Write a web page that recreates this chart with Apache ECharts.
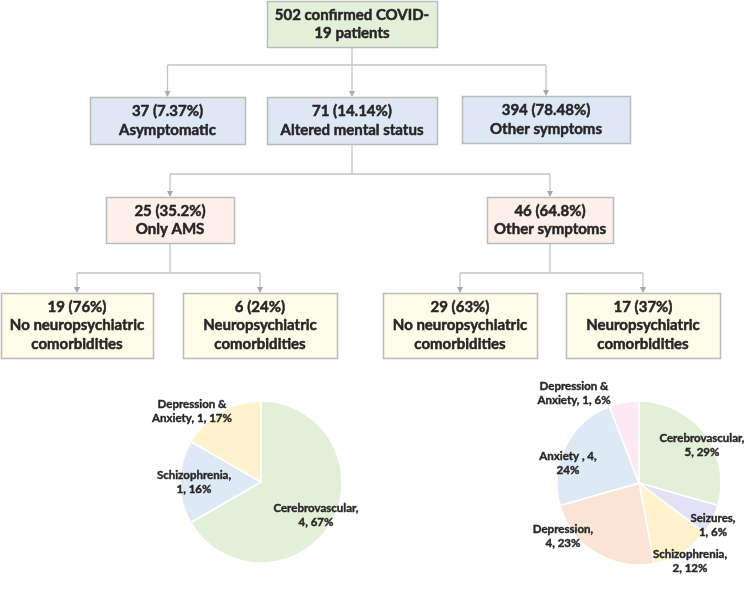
<!DOCTYPE html>
<html>
<head>
<meta charset="utf-8">
<script src="https://cdn.jsdelivr.net/npm/echarts@6/dist/echarts.min.js"></script>
<style>html,body{margin:0;padding:0;background:#fff}#c{width:750px;height:589px}</style>
</head>
<body>
<div id="c"></div>
<script>
// ---------- data ----------
const rootText = ['502 confirmed COVID-', '19 patients'];
const level1Counts = [37, 71, 394];
const level1Pct = ['7.37%', '14.14%', '78.48%'];
const level1Names = ['Asymptomatic', 'Altered mental status', 'Other symptoms'];
const level2Counts = [25, 46];
const level2Pct = ['35.2%', '64.8%'];
const level2Names = ['Only AMS', 'Other symptoms'];
const level3Counts = [19, 6, 29, 17];
const level3Pct = ['76%', '24%', '63%', '37%'];
const level3Names = ['No neuropsychiatric\ncomorbidities', 'Neuropsychiatric\ncomorbidities',
                     'No neuropsychiatric\ncomorbidities', 'Neuropsychiatric\ncomorbidities'];

const pie1Names = ['Cerebrovascular', 'Schizophrenia', 'Depression &\nAnxiety'];
const pie1Values = [4, 1, 1];
const pie1Pct = [67, 16, 17];
const pie2Names = ['Cerebrovascular', 'Seizures', 'Schizophrenia', 'Depression', 'Anxiety ', 'Depression &\nAnxiety'];
const pie2Values = [5, 1, 2, 4, 4, 1];
const pie2Pct = [29, 6, 12, 23, 24, 6];

// ---------- layout / style ----------
const FONT = 'Lato';
const TXT = '#262626';
const LINE = '#c3c3c3';
const ARROW = '#a9a9a9';
const pie1Colors = ['#e2efd9', '#dee9f6', '#fff2cc'];
const pie2Colors = ['#e2efd9', '#e3e1f6', '#fff2cc', '#fbe4d5', '#dee9f6', '#fde9f3'];
// label wrap mode: 0 -> break after name, 1 -> name holds break, 2 -> break after value
const pie1Wrap = [0, 0, 1];
const pie2Wrap = [0, 0, 0, 0, 2, 1];
const pie1LabelPos = [[316, 515], [194, 482], [192, 411]];
const pie2LabelPos = [[702, 445], [713, 525], [690, 561], [563, 536], [568, 463], [574, 393]];

const rootBox = {x: 267, y: 1, w: 170, h: 46, fill: '#e2f0d9'};
const l1Boxes = [{x: 90, y: 97, w: 155, h: 47}, {x: 267, y: 97, w: 170, h: 47}, {x: 462, y: 96, w: 168, h: 47}];
const l2Boxes = [{x: 106, y: 197, w: 128, h: 46}, {x: 487, y: 197, w: 126, h: 46}];
const l3Boxes = [{x: 1, y: 293, w: 152, h: 65}, {x: 183, y: 293, w: 154, h: 65},
                 {x: 383, y: 293, w: 154, h: 65}, {x: 566, y: 293, w: 154, h: 65}];
const l1Fill = '#dee7f4', l2Fill = '#fcf0e8', l3Fill = '#fefde9';

function box(b, fill, lines) {
  return {
    type: 'group',
    children: [
      {type: 'rect', shape: {x: b.x + 0.5, y: b.y + 0.5, width: b.w, height: b.h},
       style: {fill: fill, stroke: '#bababa', lineWidth: 1.5}},
      {type: 'text', x: b.x + b.w / 2, y: b.y + b.h / 2,
       style: {text: lines.join('\n'), fill: TXT, stroke: TXT, lineWidth: 0.5,
               font: 'bold 15px ' + FONT,
               textAlign: 'center', textVerticalAlign: 'middle', lineHeight: 18.5}}
    ]
  };
}
function cx(b) { return b.x + b.w / 2; }
function line(pts) {
  return {type: 'polyline', shape: {points: pts}, style: {stroke: LINE, lineWidth: 1.3, fill: null}};
}
function arrow(x, y) {
  return {type: 'polygon', shape: {points: [[x - 3, y - 6], [x + 3, y - 6], [x, y]]}, style: {fill: ARROW}};
}
function fork(fromBox, toBoxes, yMid) {
  const els = [];
  const x0 = cx(fromBox);
  const xs = toBoxes.map(cx);
  els.push(line([[x0, fromBox.y + fromBox.h], [x0, yMid]]));
  els.push(line([[Math.min(...xs), yMid], [Math.max(...xs), yMid]]));
  toBoxes.forEach(b => {
    els.push(line([[cx(b), yMid], [cx(b), b.y - 1]]));
    els.push(arrow(cx(b), b.y));
  });
  return els;
}

const graphics = [];
graphics.push(...fork(rootBox, l1Boxes, 65));
graphics.push(...fork(l1Boxes[1], l2Boxes, 174));
graphics.push(...fork(l2Boxes[0], [l3Boxes[0], l3Boxes[1]], 273));
graphics.push(...fork(l2Boxes[1], [l3Boxes[2], l3Boxes[3]], 273));
graphics.push(box(rootBox, rootBox.fill, rootText));
l1Boxes.forEach((b, i) => graphics.push(box(b, l1Fill, [level1Counts[i] + ' (' + level1Pct[i] + ')', level1Names[i]])));
l2Boxes.forEach((b, i) => graphics.push(box(b, l2Fill, [level2Counts[i] + ' (' + level2Pct[i] + ')', level2Names[i]])));
l3Boxes.forEach((b, i) => graphics.push(box(b, l3Fill, [level3Counts[i] + ' (' + level3Pct[i] + ')', level3Names[i]])));

function labelText(name, v, p, mode) {
  if (mode === 0) return name + ',\n' + v + ', ' + p + '%';
  if (mode === 1) return name + ', ' + v + ', ' + p + '%';
  return name + ', ' + v + ',\n' + p + '%';
}
function pieData(names, values, pct, colors, wrap) {
  return names.map((n, i) => ({
    name: n, value: values[i],
    itemStyle: {color: colors[i]},
    label: {formatter: labelText(n, values[i], pct[i], wrap[i])}
  }));
}
const labelPos = [pie1LabelPos, pie2LabelPos];

const chart = echarts.init(document.getElementById('c'), null, {renderer: 'canvas'});
const pieCommon = {
  type: 'pie', startAngle: 90, clockwise: true, silent: true, animation: false,
  itemStyle: {borderColor: '#ffffff', borderWidth: 1.5},
  label: {show: true, position: 'inside', color: TXT, fontFamily: FONT, fontWeight: 'bold',
          fontSize: 11.5, lineHeight: 14, align: 'center',
          textBorderColor: TXT, textBorderWidth: 0.4},
  labelLine: {show: false},
  labelLayout: function (p) {
    const pos = labelPos[p.seriesIndex][p.dataIndex];
    return {x: pos[0], y: pos[1], align: 'center', verticalAlign: 'middle'};
  }
};
chart.setOption({
  animation: false,
  backgroundColor: '#ffffff',
  graphic: graphics,
  series: [
    Object.assign({}, pieCommon, {center: [261, 482], radius: 81,
      data: pieData(pie1Names, pie1Values, pie1Pct, pie1Colors, pie1Wrap)}),
    Object.assign({}, pieCommon, {center: [639, 483], radius: 82,
      data: pieData(pie2Names, pie2Values, pie2Pct, pie2Colors, pie2Wrap)})
  ]
});
</script>
</body>
</html>
